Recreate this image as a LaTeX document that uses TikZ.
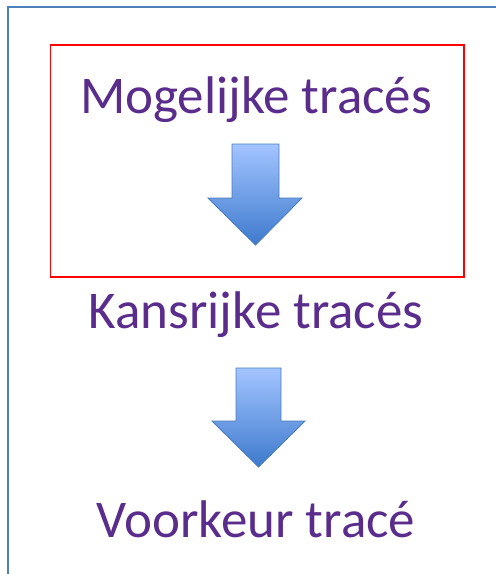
\documentclass[tikz,border=0pt]{standalone}
\usepackage{fontspec}
\setmainfont{Carlito}
\definecolor{framblue}{RGB}{79,129,189}
\definecolor{txtpurple}{RGB}{90,44,140}
\definecolor{arrtop}{RGB}{163,196,255}
\definecolor{arrbot}{RGB}{62,122,205}
\definecolor{arredge}{RGB}{74,126,187}
\tikzset{
  label text/.style={font=\fontsize{53}{60}\selectfont, text=txtpurple, anchor=base, inner sep=0pt},
  blockarrow/.style={draw=arredge, line width=0.9pt, top color=arrtop, bottom color=arrbot, line join=miter},
}
\begin{document}
\begin{tikzpicture}[x=1pt, y=-1pt]
\useasboundingbox (0,0) rectangle (496,574);
% outer frame (only left and top edges are visible)
\draw[framblue, line width=2pt] (8,580) -- (8,7) -- (502,7);
% red box
\draw[red, line width=1.8pt] (50.5,45) rectangle (464,277);
% texts
\node[label text] (t1) at (256,113) {Mogelijke tracés};
\node[label text] (t2) at (256,328) {Kansrijke tracés};
\node[label text] (t3) at (256,537) {Voorkeur tracé};
% block arrows
\path[blockarrow] (232,144) -- (279,144) -- (279,198) -- (302,198) -- (255.5,245) -- (208,198) -- (232,198) -- cycle;
\path[blockarrow] (236,368) -- (281,368) -- (281,421) -- (305,421) -- (258.5,467) -- (212,421) -- (236,421) -- cycle;
\end{tikzpicture}
\end{document}
